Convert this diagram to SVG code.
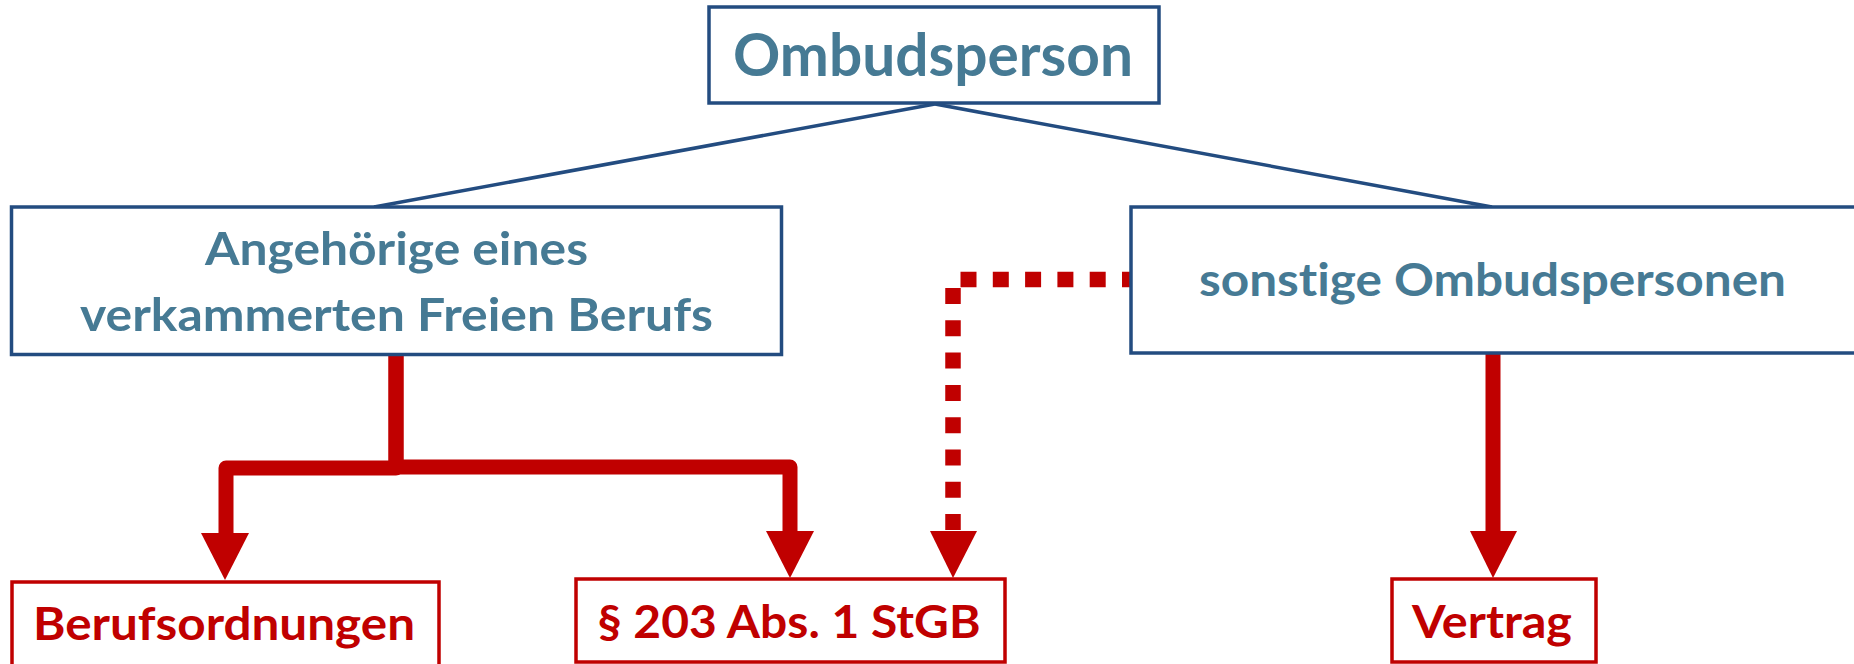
<svg xmlns="http://www.w3.org/2000/svg" width="1854" height="664" viewBox="0 0 1854 664">
  <style>
    .box-blue { fill: #ffffff; stroke: #234C80; stroke-width: 3.5; }
    .box-red { fill: #ffffff; stroke: #C00000; stroke-width: 3.5; }
    .txt { font-family: Lato, "Open Sans", "Liberation Sans", sans-serif; font-weight: 700; text-anchor: middle; font-variant-ligatures: none; }
    .txt-blue { fill: #467A94; }
    .txt-red { fill: #C00000; }
    .tree { fill: none; stroke: #234C80; stroke-width: 3.5; }
    .flow { fill: none; stroke: #C00000; stroke-width: 15; stroke-linejoin: round; stroke-linecap: butt; }
    .flow-dot { fill: none; stroke: #C00000; stroke-width: 15.5; stroke-dasharray: 16 16.3; }
    .head { fill: #C00000; }
  </style>

  <!-- hierarchy lines and red arrows -->
  <g id="connectors">
    <path class="tree" d="M935,104 L374,207"/>
    <path class="tree" d="M935,104 L1492,207"/>

    <path class="flow" d="M396,355 V468 H226 V535"/>
    <path class="flow" d="M396,355 V467 H790 V533"/>
    <path class="flow" d="M1493,353 V533"/>

    <path class="flow-dot" d="M1138,279.5 H960.5"/>
    <path class="flow-dot" d="M953,288 V531"/>

    <polygon class="head" points="201,533 249,533 225,580"/>
    <polygon class="head" points="766,531 814,531 790,578"/>
    <polygon class="head" points="930,531 977,531 953,578"/>
    <polygon class="head" points="1470,531 1517,531 1493,578"/>
  </g>

  <g id="node-ombudsperson">
    <rect class="box-blue" x="709" y="7" width="450" height="96"/>
    <text class="txt txt-blue" x="933" y="76" font-size="59" textLength="400" lengthAdjust="spacingAndGlyphs">Ombudsperson</text>
  </g>

  <g id="node-angehoerige">
    <rect class="box-blue" x="11.5" y="207" width="770" height="147.5"/>
    <text class="txt txt-blue" x="396.5" y="265" font-size="46.5" textLength="383" lengthAdjust="spacingAndGlyphs">Angehörige eines</text>
    <text class="txt txt-blue" x="396.5" y="331" font-size="46.5" textLength="633" lengthAdjust="spacingAndGlyphs">verkammerten Freien Berufs</text>
  </g>

  <g id="node-sonstige">
    <rect class="box-blue" x="1131" y="207" width="800" height="146"/>
    <text class="txt txt-blue" x="1492.5" y="296" font-size="46.5" textLength="587" lengthAdjust="spacingAndGlyphs">sonstige Ombudspersonen</text>
  </g>

  <g id="node-berufsordnungen">
    <rect class="box-red" x="12" y="582" width="427" height="84"/>
    <text class="txt txt-red" x="224" y="640" font-size="46.5" textLength="382" lengthAdjust="spacingAndGlyphs">Berufsordnungen</text>
  </g>

  <g id="node-stgb">
    <rect class="box-red" x="576" y="579" width="429" height="83"/>
    <text class="txt txt-red" x="789" y="638" font-size="46.5" textLength="383" lengthAdjust="spacingAndGlyphs">§ 203 Abs. 1 StGB</text>
  </g>

  <g id="node-vertrag">
    <rect class="box-red" x="1392" y="579" width="204" height="83"/>
    <text class="txt txt-red" x="1492" y="638" font-size="46.5" textLength="160" lengthAdjust="spacingAndGlyphs">Vertrag</text>
  </g>
</svg>
